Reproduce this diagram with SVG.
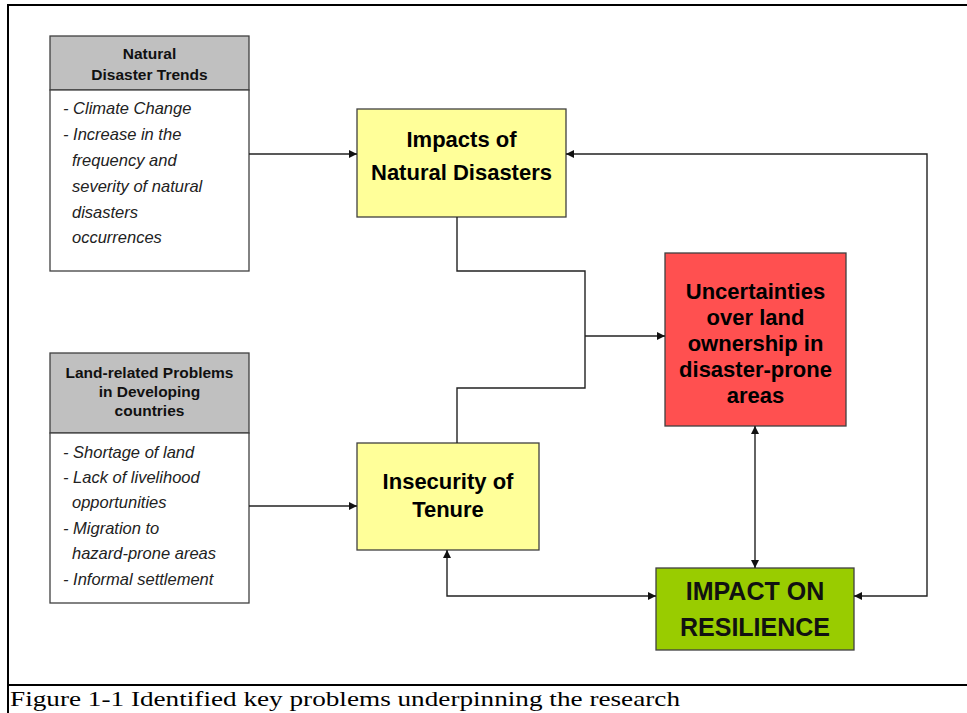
<svg xmlns="http://www.w3.org/2000/svg" width="967" height="713" viewBox="0 0 967 713">
  <style>
    .frame { stroke: #000; stroke-width: 2; fill: none; }
    .box { stroke: #404040; stroke-width: 1.3; }
    .hdr { fill: #c0c0c0; }
    .body { fill: #ffffff; }
    .yellow { fill: #ffff99; }
    .red { fill: #ff5050; }
    .green { fill: #99cc00; }
    .htxt { font-family: "Liberation Sans", Arial, sans-serif; font-weight: bold; font-size: 15.5px; fill: #111; text-anchor: middle; }
    .btxt { font-family: "Liberation Sans", Arial, sans-serif; font-style: italic; font-size: 16.5px; fill: #222; }
    .mtxt { font-family: "Liberation Sans", Arial, sans-serif; font-weight: bold; font-size: 22px; fill: #000; text-anchor: middle; }
    .gtxt { font-family: "Liberation Sans", Arial, sans-serif; font-weight: bold; font-size: 25px; fill: #111; text-anchor: middle; }
    .cap { font-family: "Liberation Serif", "DejaVu Serif", serif; font-size: 21px; fill: #000; }
    .conn { stroke: #222; stroke-width: 1.4; fill: none; }
  </style>
  <defs>
    <marker id="arr" viewBox="0 0 10 10" refX="10" refY="5" markerWidth="9" markerHeight="8" markerUnits="userSpaceOnUse" orient="auto-start-reverse">
      <path d="M0,0 L10,5 L0,10 z" fill="#111"/>
    </marker>
  </defs>

  <!-- page frame and caption rule -->
  <g id="frame">
    <line class="frame" x1="8" y1="5" x2="967" y2="5" stroke-width="1.5"/>
    <line class="frame" x1="7" y1="5" x2="27" y2="5"/>
    <line class="frame" x1="8" y1="4" x2="8" y2="713"/>
    <line class="frame" x1="8" y1="685" x2="967" y2="685"/>
  </g>

  <!-- input: natural disaster trends -->
  <g id="natural-trends">
    <rect class="box hdr" x="50" y="36" width="199" height="54"/>
    <rect class="box body" x="50" y="90" width="199" height="181"/>
    <text class="htxt" x="149.5" y="59">Natural</text>
    <text class="htxt" x="149.5" y="80">Disaster Trends</text>
    <text class="btxt" x="63" y="114">- Climate Change</text>
    <text class="btxt" x="63" y="140">- Increase in the</text>
    <text class="btxt" x="72" y="166">frequency and</text>
    <text class="btxt" x="72" y="192">severity of natural</text>
    <text class="btxt" x="72" y="218">disasters</text>
    <text class="btxt" x="72" y="243">occurrences</text>
  </g>

  <!-- input: land-related problems -->
  <g id="land-problems">
    <rect class="box hdr" x="50" y="353" width="199" height="80"/>
    <rect class="box body" x="50" y="433" width="199" height="170"/>
    <text class="htxt" x="149.5" y="378">Land-related Problems</text>
    <text class="htxt" x="149.5" y="397">in Developing</text>
    <text class="htxt" x="149.5" y="416">countries</text>
    <text class="btxt" x="63" y="458">- Shortage of land</text>
    <text class="btxt" x="63" y="483">- Lack of livelihood</text>
    <text class="btxt" x="72" y="508">opportunities</text>
    <text class="btxt" x="63" y="534">- Migration to</text>
    <text class="btxt" x="72" y="559">hazard-prone areas</text>
    <text class="btxt" x="63" y="585">- Informal settlement</text>
  </g>

  <g id="impacts">
    <rect class="box yellow" x="357" y="109" width="209" height="108"/>
    <text class="mtxt" x="461.5" y="147">Impacts of</text>
    <text class="mtxt" x="461.5" y="180">Natural Disasters</text>
  </g>

  <g id="insecurity">
    <rect class="box yellow" x="357" y="443" width="182" height="107"/>
    <text class="mtxt" x="448" y="489">Insecurity of</text>
    <text class="mtxt" x="448" y="517">Tenure</text>
  </g>

  <g id="uncertainties">
    <rect class="box red" x="665" y="253" width="181" height="173"/>
    <text class="mtxt" x="755.5" y="299">Uncertainties</text>
    <text class="mtxt" x="755.5" y="325">over land</text>
    <text class="mtxt" x="755.5" y="351">ownership in</text>
    <text class="mtxt" x="755.5" y="377">disaster-prone</text>
    <text class="mtxt" x="755.5" y="403">areas</text>
  </g>

  <g id="resilience">
    <rect class="box green" x="656" y="568" width="198" height="82"/>
    <text class="gtxt" x="755" y="600">IMPACT ON</text>
    <text class="gtxt" x="755" y="636">RESILIENCE</text>
  </g>

  <g id="connectors">
    <line class="conn" x1="249" y1="154" x2="357" y2="154" marker-end="url(#arr)"/>
    <line class="conn" x1="249" y1="506" x2="357" y2="506" marker-end="url(#arr)"/>
    <polyline class="conn" points="457,217 457,271 585,271 585,388 457,388 457,443"/>
    <line class="conn" x1="585" y1="336" x2="665" y2="336" marker-end="url(#arr)"/>
    <line class="conn" x1="755" y1="426" x2="755" y2="568" marker-start="url(#arr)" marker-end="url(#arr)"/>
    <polyline class="conn" points="447,550 447,596 656,596" marker-start="url(#arr)" marker-end="url(#arr)"/>
    <polyline class="conn" points="854,596 927,596 927,154 566,154" marker-start="url(#arr)" marker-end="url(#arr)"/>
  </g>

  <text class="cap" x="10" y="706" textLength="670" lengthAdjust="spacingAndGlyphs">Figure 1-1  Identified key problems underpinning the research</text>
</svg>
